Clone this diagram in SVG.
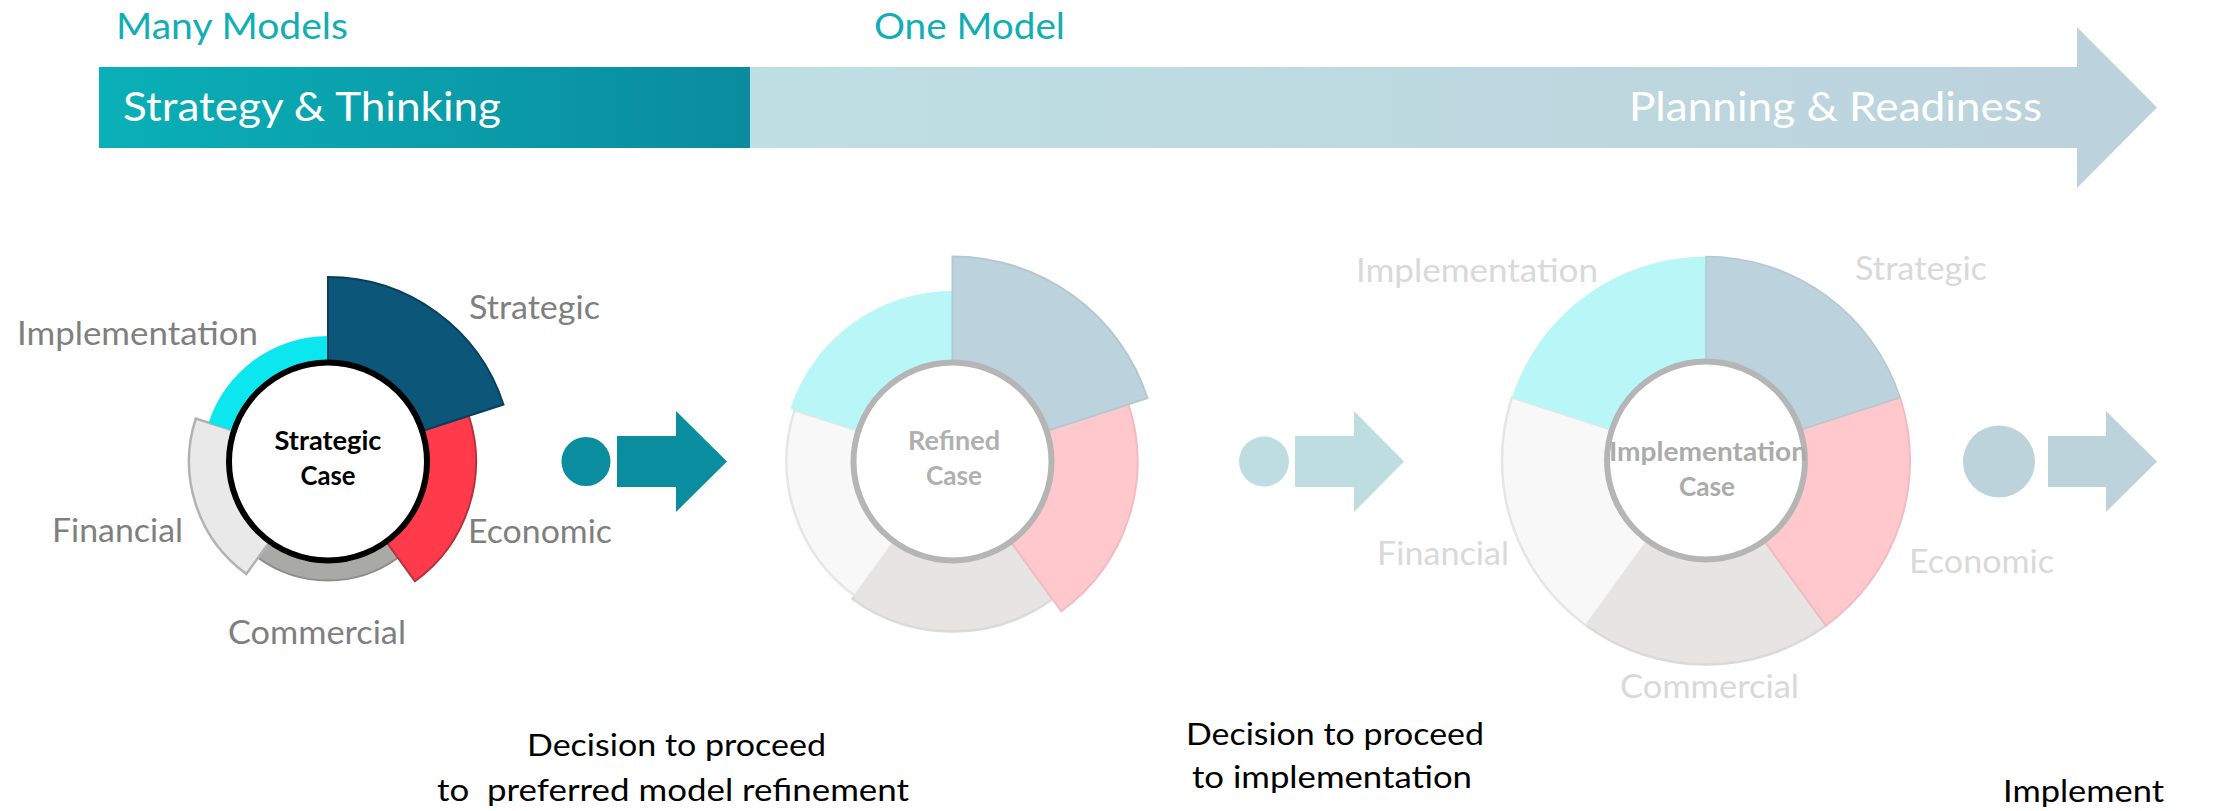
<svg xmlns="http://www.w3.org/2000/svg" width="2224" height="811" viewBox="0 0 2224 811">
  <defs>
    <linearGradient id="gradStrategy" x1="0" y1="0" x2="1" y2="0">
      <stop offset="0" stop-color="#0AB0B7"/>
      <stop offset="1" stop-color="#0A8C9E"/>
    </linearGradient>
    <linearGradient id="gradPlanning" gradientUnits="userSpaceOnUse" x1="750" y1="0" x2="2157" y2="0">
      <stop offset="0" stop-color="#BEDFE4"/>
      <stop offset="1" stop-color="#BCD2DC"/>
    </linearGradient>
    <style>
      text { font-family: Lato, "Open Sans", "Liberation Sans", sans-serif; }
      .phase { fill: #12AEB6; font-size: 36px; }
      .bar-label { fill: #FFFFFF; font-size: 41px; }
      .lbl { font-size: 33px; }
      .lbl-on { fill: #7F7F7F; }
      .lbl-off { fill: #D9D9D9; }
      .core { font-size: 26px; font-weight: bold; text-anchor: middle; }
      .note { fill: #000000; font-size: 31.5px; }
      .ring-core { fill: #FFFFFF; stroke-width: 6; }
    </style>
  </defs>

  <!-- phase headings -->
  <g id="phase-headings">
    <text class="phase" x="116" y="39" textLength="232" lengthAdjust="spacingAndGlyphs">Many Models</text>
    <text class="phase" x="874" y="39" textLength="191" lengthAdjust="spacingAndGlyphs">One Model</text>
  </g>

  <!-- timeline bar -->
  <g id="timeline">
    <polygon points="750,67 2077,67 2077,27 2157,107.5 2077,188 2077,148 750,148" fill="url(#gradPlanning)"/>
    <rect x="99" y="67" width="651" height="81" fill="url(#gradStrategy)"/>
    <text class="bar-label" x="123" y="120.5" textLength="378" lengthAdjust="spacingAndGlyphs">Strategy &amp; Thinking</text>
    <text class="bar-label" x="1629" y="120.5" textLength="413" lengthAdjust="spacingAndGlyphs">Planning &amp; Readiness</text>
  </g>

  <!-- stage 1: strategic case -->
  <g id="strategic-case">
    <path d="M397.95,557.77 A119,119 0 0 1 258.05,557.77 L269.81,541.59 A99,99 0 0 0 386.19,541.59 Z" fill="#A9A9A5" stroke="#8C8C89" stroke-width="2"/>
    <path d="M246.30,573.95 A139,139 0 0 1 195.80,418.55 L233.85,430.91 A99,99 0 0 0 269.81,541.59 Z" fill="#E9E9E9" stroke="#B2B2B2" stroke-width="2.5"/>
    <path d="M208.64,422.72 A125.5,125.5 0 0 1 328,336 L328,362.5 A99,99 0 0 0 233.85,430.91 Z" fill="#0CE6EE"/>
    <path d="M468.76,415.77 A148,148 0 0 1 414.99,581.23 L386.19,541.59 A99,99 0 0 0 422.15,430.91 Z" fill="#FF3B4B" stroke="#B8303C" stroke-width="2"/>
    <path d="M328,277 A184.5,184.5 0 0 1 503.47,404.49 L422.15,430.91 A99,99 0 0 0 328,362.5 Z" fill="#0C5679" stroke="#083F5C" stroke-width="2"/>
    <circle class="ring-core" cx="328" cy="461.5" r="99" stroke="#000000"/>
    <text class="core" x="328" y="449.5" fill="#000000" textLength="107" lengthAdjust="spacingAndGlyphs">Strategic</text>
    <text class="core" x="328" y="485" fill="#000000" textLength="55" lengthAdjust="spacingAndGlyphs">Case</text>
    <text class="lbl lbl-on" x="469" y="319" textLength="131" lengthAdjust="spacingAndGlyphs">Strategic</text>
    <text class="lbl lbl-on" x="17" y="345" textLength="241" lengthAdjust="spacingAndGlyphs">Implementation</text>
    <text class="lbl lbl-on" x="52" y="542" textLength="131" lengthAdjust="spacingAndGlyphs">Financial</text>
    <text class="lbl lbl-on" x="468" y="543" textLength="144" lengthAdjust="spacingAndGlyphs">Economic</text>
    <text class="lbl lbl-on" x="228" y="644" textLength="178" lengthAdjust="spacingAndGlyphs">Commercial</text>
  </g>

  <!-- stage 2: refined case -->
  <g id="refined-case">
    <path d="M1052.42,599.03 A170,170 0 0 1 852.58,599.03 L894.31,541.59 A99,99 0 0 0 1010.69,541.59 Z" fill="#E6E5E3" stroke="#DADAD8" stroke-width="2.5"/>
    <path d="M854.93,595.80 A166,166 0 0 1 794.62,410.20 L858.35,430.91 A99,99 0 0 0 894.31,541.59 Z" fill="#F8F8F8" stroke="#E6E6E6" stroke-width="2.5"/>
    <path d="M790.34,408.81 A170.5,170.5 0 0 1 952.5,291 L952.5,362.5 A99,99 0 0 0 858.35,430.91 Z" fill="#B8F6F7"/>
    <path d="M1128.45,404.33 A185,185 0 0 1 1061.24,611.17 L1010.69,541.59 A99,99 0 0 0 1046.65,430.91 Z" fill="#FFC8CD" stroke="#F3BAC0" stroke-width="2"/>
    <path d="M952.5,256.5 A205,205 0 0 1 1147.47,398.15 L1046.65,430.91 A99,99 0 0 0 952.5,362.5 Z" fill="#BCD2DC" stroke="#B2C9D3" stroke-width="2"/>
    <circle class="ring-core" cx="952.5" cy="461.5" r="99" stroke="#B5B5B5"/>
    <text class="core" x="954" y="450" fill="#B0B0B0" textLength="92" lengthAdjust="spacingAndGlyphs">Refined</text>
    <text class="core" x="954" y="485" fill="#B0B0B0" textLength="56" lengthAdjust="spacingAndGlyphs">Case</text>
  </g>

  <!-- stage 3: implementation case -->
  <g id="implementation-case">
    <path d="M1825.91,625.54 A204,204 0 0 1 1586.09,625.54 L1647.81,540.59 A99,99 0 0 0 1764.19,540.59 Z" fill="#E6E5E3" stroke="#DADAD8" stroke-width="2.5"/>
    <path d="M1586.09,625.54 A204,204 0 0 1 1511.98,397.46 L1611.85,429.91 A99,99 0 0 0 1647.81,540.59 Z" fill="#F8F8F8" stroke="#E6E6E6" stroke-width="2.5"/>
    <path d="M1511.98,397.46 A204,204 0 0 1 1706,256.5 L1706,361.5 A99,99 0 0 0 1611.85,429.91 Z" fill="#B8F6F7"/>
    <path d="M1900.02,397.46 A204,204 0 0 1 1825.91,625.54 L1764.19,540.59 A99,99 0 0 0 1800.15,429.91 Z" fill="#FFC8CD" stroke="#F3BAC0" stroke-width="2"/>
    <path d="M1706,256.5 A204,204 0 0 1 1900.02,397.46 L1800.15,429.91 A99,99 0 0 0 1706,361.5 Z" fill="#BCD2DC" stroke="#B2C9D3" stroke-width="1.5"/>
    <circle class="ring-core" cx="1706" cy="460.5" r="99" stroke="#B5B5B5"/>
    <text class="core" x="1708" y="461" fill="#ABABAB" textLength="198" lengthAdjust="spacingAndGlyphs">Implementation</text>
    <text class="core" x="1707" y="496" fill="#ABABAB" textLength="56" lengthAdjust="spacingAndGlyphs">Case</text>
    <text class="lbl lbl-off" x="1855" y="280" textLength="132" lengthAdjust="spacingAndGlyphs">Strategic</text>
    <text class="lbl lbl-off" x="1356" y="282" textLength="242" lengthAdjust="spacingAndGlyphs">Implementation</text>
    <text class="lbl lbl-off" x="1377" y="565" textLength="132" lengthAdjust="spacingAndGlyphs">Financial</text>
    <text class="lbl lbl-off" x="1909" y="573" textLength="145" lengthAdjust="spacingAndGlyphs">Economic</text>
    <text class="lbl lbl-off" x="1620" y="698" textLength="179" lengthAdjust="spacingAndGlyphs">Commercial</text>
  </g>

  <!-- decision gates: dot and block arrow between stages -->
  <g id="connectors">
    <g id="gate-1" fill="#0A8E9F">
      <circle cx="586" cy="461.5" r="24.5"/>
      <polygon points="617,436 676,436 676,411 727,461.5 676,512 676,487 617,487"/>
    </g>
    <g id="gate-2" fill="#BDDDE1">
      <circle cx="1264" cy="461.5" r="25"/>
      <polygon points="1295,436 1354,436 1354,411 1404,461.5 1354,512 1354,487 1295,487"/>
    </g>
    <g id="gate-3" fill="#BCD3DC">
      <circle cx="1999" cy="461.5" r="36"/>
      <polygon points="2048,436 2106,436 2106,411 2157,461.5 2106,512 2106,487 2048,487"/>
    </g>
  </g>

  <!-- decision captions -->
  <g id="captions">
    <text class="note" x="527" y="755.5" textLength="299" lengthAdjust="spacingAndGlyphs">Decision to proceed</text>
    <text class="note" x="437" y="800.5" xml:space="preserve" style="white-space:pre" textLength="472" lengthAdjust="spacingAndGlyphs">to  preferred model refinement</text>
    <text class="note" x="1186" y="745" textLength="298" lengthAdjust="spacingAndGlyphs">Decision to proceed</text>
    <text class="note" x="1192" y="788" textLength="280" lengthAdjust="spacingAndGlyphs">to implementation</text>
    <text class="note" x="2003" y="802" textLength="161" lengthAdjust="spacingAndGlyphs">Implement</text>
  </g>
</svg>
